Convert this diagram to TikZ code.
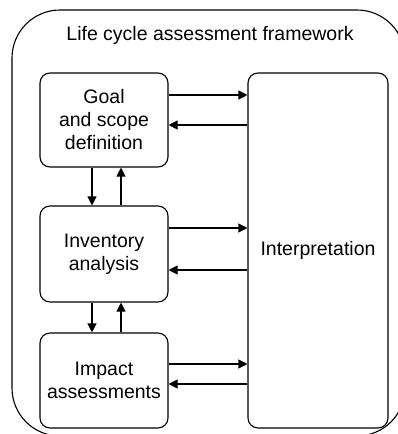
\documentclass[tikz,border=0pt]{standalone}
\usepackage{fontspec}
\setmainfont{Liberation Sans}
\usetikzlibrary{arrows.meta, positioning}

\begin{document}
\begin{tikzpicture}[x=1pt, y=-1pt, line width=1.1pt,
        every node/.style={font=\fontsize{19.5}{23}\selectfont},
        stage/.style={draw, rounded corners=10pt, align=center, inner sep=0pt, minimum width=128pt},
        arr/.style={-{Triangle[length=9pt, width=9pt]}}]
			\useasboundingbox (0,0) rectangle (398,434);

			% Draw the outer frame
			\draw[rounded corners=48pt] (12,10) rectangle (405,436);
			\node (title) at (210,35) {Life cycle assessment framework};

			% Draw the boxes
			\node[stage, minimum height=94pt] (goal) at (104,120) {Goal\\and scope\\definition};
			\node[stage, minimum height=96pt] (inv) at (104,254) {Inventory\\analysis};
			\node[stage, minimum height=95pt] (impact) at (104,380.5) {Impact\\assessments};
			\node[stage, minimum width=140pt, minimum height=355pt] (interp) at (318,250.5) {Interpretation};

			% Draw the arrows to and from the interpretation box
			\draw[arr] ([yshift=25pt]goal.east) -- ([yshift=25pt]goal.east -| interp.west);
			\draw[arr] ([yshift=-5pt]goal.east -| interp.west) -- ([yshift=-5pt]goal.east);
			\draw[arr] ([yshift=26pt]inv.east) -- ([yshift=26pt]inv.east -| interp.west);
			\draw[arr] ([yshift=-16pt]inv.east -| interp.west) -- ([yshift=-16pt]inv.east);
			\draw[arr] ([yshift=16.5pt]impact.east) -- ([yshift=16.5pt]impact.east -| interp.west);
			\draw[arr] ([yshift=-3.5pt]impact.east -| interp.west) -- ([yshift=-3.5pt]impact.east);

			% Draw the arrows between the stages
			\draw[arr] ([xshift=-12pt]goal.south) -- ([xshift=-12pt]goal.south |- inv.north);
			\draw[arr] ([xshift=17pt]inv.north) -- ([xshift=17pt]inv.north |- goal.south);
			\draw[arr] ([xshift=-12pt]inv.south) -- ([xshift=-12pt]inv.south |- impact.north);
			\draw[arr] ([xshift=17pt]impact.north) -- ([xshift=17pt]impact.north |- inv.south);
		\end{tikzpicture}
\end{document}
